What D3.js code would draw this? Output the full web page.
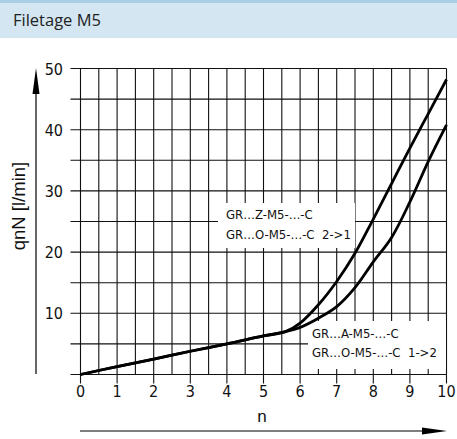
<!DOCTYPE html>
<html><head><meta charset="utf-8">
<script src="https://cdn.jsdelivr.net/npm/d3@7"></script>
<style>
html,body{margin:0;padding:0;background:#fff;}
svg{display:block;}
.iso{font-family:"DejaVu Sans Condensed","DejaVu Sans",sans-serif;font-stretch:condensed;}
</style></head>
<body>
<script>
const title = "Filetage M5";
const yLabel = "qnN [l/min]";
const xLabel = "n";
const xTickLabels = [0,1,2,3,4,5,6,7,8,9,10];
const yTickLabels = [10,20,30,40,50];
// shared linear section
const baseN = [0, 1, 2, 3, 4, 5, 5.6];
const baseQ = [0, 1.3, 2.5, 3.8, 5.0, 6.3, 7.0];
// series 2->1 (steeper)
const s21N = [6.0, 6.5, 7.0, 7.5, 8.0, 8.5, 9.0, 9.5, 10];
const s21Q = [8.4, 11.4, 15.2, 19.8, 25.4, 31.2, 37.0, 42.6, 48.2];
// series 1->2
const s12N = [6.0, 6.5, 7.0, 7.5, 8.0, 8.5, 9.0, 9.5, 10];
const s12Q = [7.7, 9.2, 11.1, 14.2, 18.4, 22.4, 28.2, 34.8, 40.8];
const labelsTop = ["GR\u2026Z-M5-\u2026-C", "GR\u2026O-M5-\u2026-C  2->1"];
const labelsBottom = ["GR\u2026A-M5-\u2026-C", "GR\u2026O-M5-\u2026-C  1->2"];

const W = 457, H = 439;
const svg = d3.select("body").append("svg").attr("width", W).attr("height", H);

// header band
svg.append("rect").attr("x",0).attr("y",0).attr("width",W).attr("height",38).attr("fill","#d3e6f1");
svg.append("rect").attr("x",0).attr("y",0).attr("width",W).attr("height",3).attr("fill","#a9cfe5");
svg.append("text").attr("x",13).attr("y",26).attr("font-family","'Open Sans',sans-serif")
  .attr("font-size",16.5).attr("fill","#222").text(title);

const x = d3.scaleLinear().domain([0,10]).range([80.5,446.5]);
const y = d3.scaleLinear().domain([0,50]).range([374.5,68.5]);

const grid = svg.append("g").attr("stroke","#111").attr("stroke-width",1.1);
// vertical lines every 0.5
x.ticks(20).forEach(v => {
  const isInt = Math.abs(v - Math.round(v)) < 1e-9;
  grid.append("line").attr("x1",x(v)).attr("x2",x(v)).attr("y1",y(50)).attr("y2", isInt ? y(0)+9 : y(0));
});
// horizontal lines every 5
y.ticks(10).forEach(v => {
  grid.append("line").attr("x1",x(0)-10).attr("x2",x(10)).attr("y1",y(v)).attr("y2",y(v));
});

// label boxes (white background hiding grid)
svg.append("rect").attr("x",218).attr("y",203).attr("width",137).attr("height",45).attr("fill","#fff");
svg.append("rect").attr("x",308).attr("y",321).attr("width",138).attr("height",48).attr("fill","#fff");

// tick labels
const tk = svg.append("g").attr("class","iso").attr("font-size",16).attr("fill","#111");
yTickLabels.forEach(v => {
  tk.append("text").attr("x",63).attr("y",y(v)+6).attr("text-anchor","end").text(v);
});
xTickLabels.forEach(v => {
  tk.append("text").attr("x",x(v)).attr("y",397).attr("text-anchor","middle").text(v);
});

// curves
const line = d3.line().x(d=>x(d[0])).y(d=>y(d[1])).curve(d3.curveCatmullRom.alpha(0.5));
const base = baseN.map((n,i)=>[n,baseQ[i]]);
const c21 = base.concat(s21N.map((n,i)=>[n,s21Q[i]]));
const c12 = base.concat(s12N.map((n,i)=>[n,s12Q[i]]));
[c21,c12].forEach(c => {
  svg.append("path").attr("d",line(c)).attr("fill","none").attr("stroke","#000")
    .attr("stroke-width",2.8).attr("stroke-linejoin","round");
});

// series labels
const lt = svg.append("g").attr("class","iso").attr("font-size",13).attr("fill","#111");
labelsTop.forEach((t,i)=>lt.append("text").attr("x",226).attr("y",219+i*20).attr("xml:space","preserve").text(t));
labelsBottom.forEach((t,i)=>lt.append("text").attr("x",312).attr("y",338+i*19).attr("xml:space","preserve").text(t));

// y axis arrow
svg.append("line").attr("x1",36).attr("x2",36).attr("y1",90).attr("y2",374).attr("stroke","#000").attr("stroke-width",1.2);
svg.append("path").attr("d","M36,68 L39.5,94 L32.5,94 Z").attr("fill","#000");
svg.append("text").attr("transform","translate(25,206) rotate(-90)").attr("text-anchor","middle")
  .attr("font-family","'Liberation Sans',Arial,sans-serif").attr("font-size",18.5).attr("fill","#111").text(yLabel);

// x axis arrow
svg.append("line").attr("x1",80).attr("x2",425).attr("y1",431).attr("y2",431).attr("stroke","#000").attr("stroke-width",1.2);
svg.append("path").attr("d","M447,431 L422,427.5 L422,434.5 Z").attr("fill","#000");
svg.append("text").attr("x",262).attr("y",422).attr("text-anchor","middle")
  .attr("font-family","'Liberation Sans',Arial,sans-serif").attr("font-size",17).attr("fill","#111").text(xLabel);
</script>
</body></html>
